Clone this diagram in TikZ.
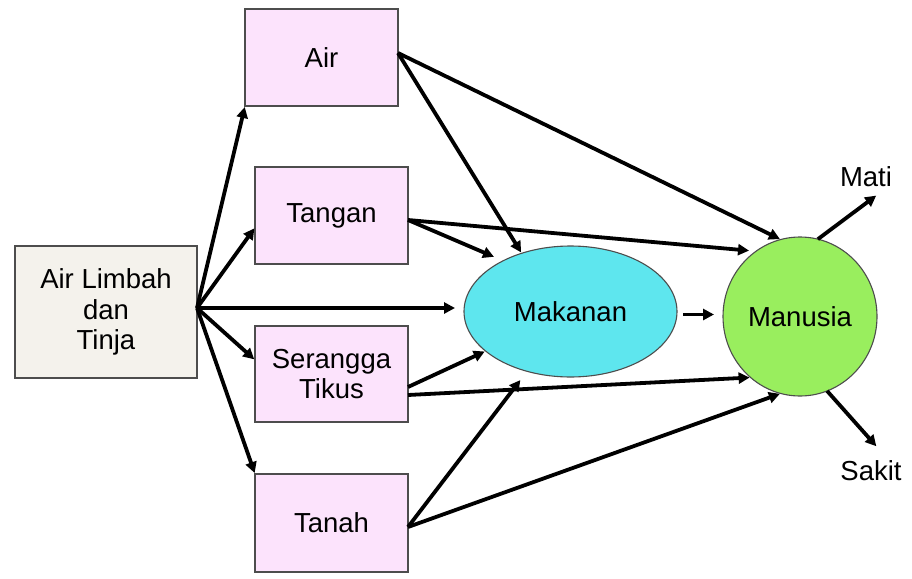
\documentclass[tikz,border=0pt]{standalone}
\usepackage{fontspec}
\setmainfont{Liberation Sans}
\usetikzlibrary{arrows.meta,shapes.geometric}
\definecolor{pinkfill}{HTML}{FCE3FC}
\definecolor{beigefill}{HTML}{F4F2EC}
\definecolor{cyanfill}{HTML}{5EE6EE}
\definecolor{greenfill}{HTML}{99EE5E}
\definecolor{edgegray}{HTML}{4D4D4D}
\begin{document}
\begin{tikzpicture}[x=1pt,y=-1pt,
  every node/.style={font=\fontsize{27.5}{30.5}\selectfont, align=center, inner sep=0pt, outer sep=0pt},
  boxnode/.style={draw=edgegray, line width=1.2pt, fill=pinkfill, rectangle, minimum width=153pt},
  srcnode/.style={draw=edgegray, line width=1.2pt, fill=beigefill, rectangle, minimum width=182pt, minimum height=132pt},
  ellnode/.style={draw=edgegray, line width=1.1pt, ellipse},
  conn/.style={line width=3.8pt, -{Triangle[length=11pt,width=11pt]}, shorten >=1pt},
]
\useasboundingbox (0,0) rectangle (912,578);
\fill[white] (0,0) rectangle (912,578);

\node[srcnode] (src) at (106,312) {Air Limbah\\dan\\Tinja};
\node[boxnode, minimum height=97pt] (air) at (321.5,57.5) {Air};
\node[boxnode, minimum height=97pt] (tangan) at (331.5,215.5) {Tangan};
\node[boxnode, minimum height=96pt] (serangga) at (331.5,374) {Serangga\\Tikus};
\node[boxnode, minimum height=98pt] (tanah) at (331.5,523) {Tanah};
\node[ellnode, fill=cyanfill, minimum width=213pt, minimum height=131pt] (makanan) at (570.5,311.5) {Makanan};
\node[ellnode, fill=greenfill, minimum width=154pt, minimum height=159pt] (manusia) at (800,316.5) {Manusia};
\node (mati) at (866,177) {Mati};
\node (sakit) at (871,471) {Sakit};
\coordinate (matiend) at (877,195);
\coordinate (sakitend) at (877,447);
\coordinate (hub) at ([yshift=4pt]src.east);

% from source
\draw[conn] (hub) -- (air.south west);
\draw[conn] (hub) -- ([yshift=-12pt]tangan.west);
\draw[conn] (hub) -- (hub -| makanan.west) [shorten >=9pt];
\draw[conn] (hub) -- ([yshift=14pt]serangga.west);
\draw[conn] (hub) -- (tanah.north west);

% from Air
\draw[conn] ([yshift=4.5pt]air.east) -- (makanan.130);
\draw[conn] ([yshift=4.5pt]air.east) -- (manusia.104);

% from Tangan
\draw[conn, shorten >=10pt] ([yshift=-4.5pt]tangan.east) -- (makanan.143);
\draw[conn, shorten >=7pt] ([yshift=-4.5pt]tangan.east) -- (manusia.124);

% from Serangga Tikus
\draw[conn] ([yshift=-13pt]serangga.east) -- (makanan.205);
\draw[conn] ([yshift=-21pt]serangga.east) -- (manusia.231);

% from Tanah
\draw[conn, shorten >=11pt] ([yshift=-4pt]tanah.east) -- (makanan.234);
\draw[conn] ([yshift=-4pt]tanah.east) -- (manusia.256);

% Makanan -> Manusia
\draw[conn, shorten <=6pt, shorten >=9pt] ([yshift=-3pt]makanan.east) -- ([yshift=2pt]manusia.west);

% outcomes
\draw[conn] (manusia.77) -- (matiend);
\draw[conn] (manusia.290) -- (sakitend);
\end{tikzpicture}
\end{document}
